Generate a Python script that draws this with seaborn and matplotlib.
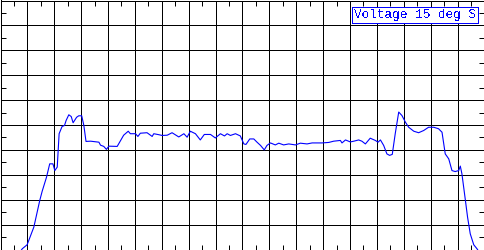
import matplotlib
matplotlib.use("Agg")
import matplotlib.pyplot as plt
from matplotlib.ticker import MultipleLocator, NullFormatter
from matplotlib.lines import Line2D
import seaborn as sns
import pandas as pd

# Series (x in grid divisions, y in grid divisions)
position = [0.68, 0.81, 0.99, 1.24, 1.46, 1.55, 1.71, 1.83, 1.95, 2.02, 2.11, 2.18, 2.29, 2.38,
            2.44, 2.54, 2.63, 2.70, 2.83, 2.91, 3.02, 3.10, 3.18, 3.35, 3.66, 3.72, 3.84, 3.94,
            4.03, 4.34, 4.58, 4.75, 4.83, 5.02, 5.11, 5.20, 5.45, 5.64, 5.70, 5.89, 6.01, 6.20,
            6.38, 6.63, 6.82, 6.94, 7.06, 7.25, 7.43, 7.58, 7.81, 7.99, 8.18, 8.33, 8.43, 8.55,
            8.74, 8.92, 9.05, 9.13, 9.27, 9.42, 9.54, 9.67, 9.81, 9.91, 10.04, 10.22, 10.35,
            10.53, 10.72, 10.97, 11.15, 11.40, 11.59, 11.96, 12.21, 12.39, 12.64, 12.70, 12.83,
            13.01, 13.14, 13.32, 13.44, 13.57, 13.75, 13.94, 14.04, 14.13, 14.25, 14.37, 14.47,
            14.57, 14.68, 14.81, 14.93, 15.06, 15.18, 15.37, 15.55, 15.74, 15.92, 16.11, 16.29,
            16.42, 16.54, 16.67, 16.79, 16.91, 17.04, 17.10, 17.16, 17.29, 17.37, 17.47, 17.60,
            17.72, 17.84]
voltage = [-0.17, 0.03, 0.19, 0.90, 1.97, 2.34, 2.90, 3.44, 3.44, 3.17, 3.31, 4.65, 4.94, 4.98,
           5.18, 5.41, 5.34, 5.09, 5.31, 5.37, 5.37, 4.98, 4.34, 4.35, 4.31, 4.19, 4.14, 4.02,
           4.15, 4.14, 4.59, 4.75, 4.65, 4.65, 4.54, 4.67, 4.69, 4.54, 4.65, 4.61, 4.58, 4.59,
           4.69, 4.52, 4.65, 4.51, 4.75, 4.65, 4.40, 4.62, 4.62, 4.48, 4.65, 4.56, 4.65, 4.58,
           4.65, 4.56, 4.24, 4.22, 4.44, 4.44, 4.31, 4.18, 4.00, 4.18, 4.28, 4.20, 4.27,
           4.20, 4.24, 4.20, 4.27, 4.24, 4.28, 4.28, 4.30, 4.35, 4.38, 4.28, 4.40,
           4.32, 4.35, 4.40, 4.35, 4.24, 4.47, 4.38, 4.31, 4.40, 4.18, 3.84, 3.78,
           3.82, 4.65, 5.52, 5.38, 5.11, 4.91, 4.75, 4.69, 4.78, 4.91, 4.91, 4.85,
           4.71, 3.84, 3.64, 3.17, 3.13, 3.17, 3.35, 3.04, 1.97, 1.30, 0.63, 0.19,
           0.03, -0.17]
series_label = "Voltage 15 deg S"

sns.set_style("white")
plt.rcParams["text.antialiased"] = False

fig = plt.figure(figsize=(4.85, 2.5), dpi=100)
ax = fig.add_axes([0.5 / 485, 0.5 / 250, 484 / 485, 249 / 250])

LW = 0.72  # one pixel at 100 dpi

df = pd.DataFrame({"x": position, "y": voltage, "series": series_label})
sns.lineplot(data=df, x="x", y="y", hue="series", palette=["#0000ff"], sort=False,
             estimator=None, ax=ax, legend=False)
for ln in ax.lines:
    ln.set_linewidth(0.8)
    ln.set_antialiased(True)

ax.set_xlim(0, 18)
ax.set_ylim(0, 10)
ax.xaxis.set_major_locator(MultipleLocator(1))
ax.yaxis.set_major_locator(MultipleLocator(1))
ax.xaxis.set_minor_locator(MultipleLocator(0.5))
ax.yaxis.set_minor_locator(MultipleLocator(0.5))
ax.xaxis.set_major_formatter(NullFormatter())
ax.yaxis.set_major_formatter(NullFormatter())
ax.set_xlabel("")
ax.set_ylabel("")
ax.grid(True, which="major", color="black", linewidth=LW, antialiased=False)
ax.tick_params(which="major", length=0)
ax.tick_params(which="minor", direction="in", length=3.5, width=LW, color="black",
               bottom=True, top=True, left=True, right=True)
for s in ax.spines.values():
    s.set_color("black")
    s.set_linewidth(LW)
    s.set_visible(True)
    s.set_antialiased(False)

h = Line2D([], [], color="none")
leg = ax.legend([h], [series_label], loc="upper right", handlelength=0, handletextpad=0,
                frameon=True, fancybox=False, framealpha=1, edgecolor="#0000ff",
                borderpad=0.15, borderaxespad=0.5,
                prop={"family": "Liberation Mono", "size": 9.2})
leg.get_frame().set_linewidth(LW)
leg.get_frame().set_antialiased(False)
for t in leg.get_texts():
    t.set_color("#0000ff")

fig.savefig("out.png", dpi=100)
